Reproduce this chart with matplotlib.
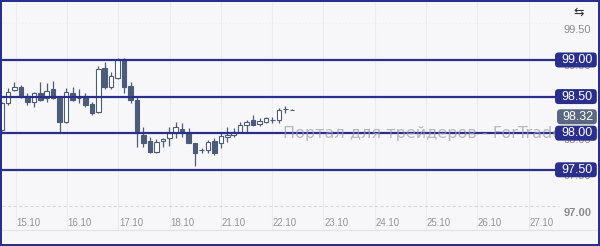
import matplotlib
matplotlib.use("Agg")
import matplotlib.pyplot as plt
import matplotlib.transforms as mtransforms
from matplotlib.patches import FancyBboxPatch

# 3-hour candles
opens  = [98.044, 98.413, 98.590, 98.631, 98.508, 98.426, 98.549, 98.481, 98.604, 98.495,
          98.153, 98.549, 98.481, 98.508, 98.399, 98.290, 98.891, 98.631, 98.754, 99.014,
          98.645, 98.454, 97.975, 97.893, 97.743, 97.893, 97.934, 98.003, 98.057, 98.003,
          97.866, 97.770, 97.770, 97.893, 97.866, 97.948, 97.975, 98.016, 98.112, 98.180,
          98.126, 98.153, 98.180, 98.180, 98.331, 98.317]
highs  = [98.430, 98.617, 98.699, 98.658, 98.549, 98.563, 98.699, 98.686, 98.713, 98.495,
          98.617, 98.631, 98.604, 98.549, 98.426, 98.918, 98.973, 98.836, 99.027, 99.027,
          98.699, 98.495, 98.085, 97.948, 97.921, 97.934, 98.085, 98.153, 98.139, 98.071,
          97.866, 97.798, 97.907, 97.934, 98.003, 98.085, 98.071, 98.153, 98.180, 98.249,
          98.208, 98.221, 98.221, 98.344, 98.372, 98.330]
lows   = [98.030, 98.385, 98.577, 98.481, 98.385, 98.358, 98.440, 98.426, 98.467, 98.016,
          98.139, 98.440, 98.413, 98.358, 98.249, 98.280, 98.604, 98.604, 98.740, 98.549,
          98.413, 97.811, 97.811, 97.730, 97.730, 97.811, 97.825, 97.934, 97.948, 97.866,
          97.552, 97.730, 97.730, 97.702, 97.798, 97.880, 97.948, 98.003, 98.016, 98.098,
          98.098, 98.139, 98.139, 98.139, 98.276, 98.310]
closes = [98.413, 98.563, 98.631, 98.495, 98.426, 98.549, 98.454, 98.577, 98.481, 98.153,
          98.563, 98.454, 98.478, 98.385, 98.276, 98.877, 98.631, 98.781, 99.000, 98.631,
          98.454, 98.003, 97.866, 97.743, 97.880, 97.921, 98.003, 98.085, 98.003, 97.866,
          97.730, 97.775, 97.880, 97.730, 97.962, 97.975, 98.016, 98.112, 98.153, 98.112,
          98.167, 98.208, 98.183, 98.317, 98.328, 98.320]

day_labels = ["15.10", "16.10", "17.10", "18.10", "21.10", "22.10",
              "23.10", "24.10", "25.10", "26.10", "27.10"]
levels = [99.00, 98.50, 98.00, 97.50]
plain_prices = [99.50, 97.00]
last_price = 98.32
watermark = "Портал для трейдеров - ForTrader.org"

navy = "#2b2f8c"
slate = "#4c5b78"
bg = "#f7f7f9"

fig = plt.figure(figsize=(6, 2.46), dpi=100, facecolor=navy)
ax = fig.add_axes([2 / 600, 2 / 246, 596 / 600, 242 / 246])
ax.set_facecolor(bg)
for s in ax.spines.values():
    s.set_visible(False)
ax.set_xticks([])
ax.set_yticks([])

first = -1
xs = list(range(first, first + len(opens)))
ax.set_xlim(-0.93, 91.47)
y0, y1 = 96.486, 99.792
ax.set_ylim(y0, y1)
px_per_unit = 242 / (y1 - y0)

# grid
day_pos = [3.2 + 7.95 * k for k in range(len(day_labels))]
for p in day_pos:
    ax.axvline(p - 2, ymin=0.058, color="#ececf0", lw=0.8, zorder=0)
ax.axhline(97.0, xmax=0.935, color="#d6d6dc", lw=0.8, ls=(0, (3, 2)), zorder=0)
ax.axhline(99.5, xmax=0.935, color="#eeeef2", lw=0.8, ls=(0, (1, 2)), zorder=0)
ax.plot([0, 1], [0.058, 0.058], transform=ax.transAxes, color="#e2e2e6", lw=0.8, zorder=0)

# candles
for x, o, h, l, c in zip(xs, opens, highs, lows, closes):
    ax.vlines(x, l, h, color=slate, lw=0.9, zorder=2)
    bottom = min(o, c)
    height = max(abs(c - o), 0.004)
    fc = "white" if c > o else slate
    ax.bar(x, height, bottom=bottom, width=0.7, facecolor=fc, edgecolor=slate,
           linewidth=0.8, zorder=2.5)

# level lines
for lv in levels:
    ax.axhline(lv, xmax=0.93, color=navy, lw=1.6, zorder=3)

ax.text(42.6, 98.0, watermark, fontsize=11.5, color="#9c9cab", alpha=0.7,
        va="center", ha="left", zorder=4, family="DejaVu Sans")

# x labels
xlab_tr = mtransforms.blended_transform_factory(ax.transData, ax.transAxes)
for p, lab in zip(day_pos, day_labels):
    ax.text(p, 0.085, lab, transform=xlab_tr, ha="center", va="center",
            fontsize=7, color="#949494", family="Liberation Sans")

# right price scale
ylab_tr = mtransforms.blended_transform_factory(ax.transAxes, ax.transData)
shift = 6.5 / px_per_unit
for v in plain_prices + [99.00, 98.00, 97.50]:
    ax.text(0.966, v - shift, f"{v:.2f}", transform=ylab_tr, ha="center", va="center",
            fontsize=8, color="#8a8a8a", family="Liberation Sans", zorder=5,
            fontweight="bold" if v == 97.0 else "normal")


def price_box(v, label, x_left, color):
    yc = (v - y0) / (y1 - y0)
    h = 15 / 242
    box = FancyBboxPatch((x_left, yc - h / 2), 0.998 - x_left, h,
                         boxstyle="round,pad=0,rounding_size=0.006",
                         mutation_aspect=596 / 242, transform=ax.transAxes,
                         facecolor=color, edgecolor="none", zorder=6, clip_on=False)
    ax.add_patch(box)
    ax.text((x_left + 0.998) / 2 + 0.002, yc, label,
            transform=ax.transAxes, ha="center", va="center", fontsize=9,
            color="white", family="Liberation Sans", zorder=7)


for v in levels:
    price_box(v, f"{v:.2f}", (555 - 2) / 596, navy)
# the last-price tag sits just under the 98.50 tag
price_box(last_price - 7 / px_per_unit, f"{last_price:.2f}", (557 - 2) / 596, "#5a6880")

ax.text(0.968, 0.985, "⇆", transform=ax.transAxes, ha="center", va="top",
        fontsize=9, color="#333333")

fig.savefig("out.png", dpi=100, facecolor=navy)
